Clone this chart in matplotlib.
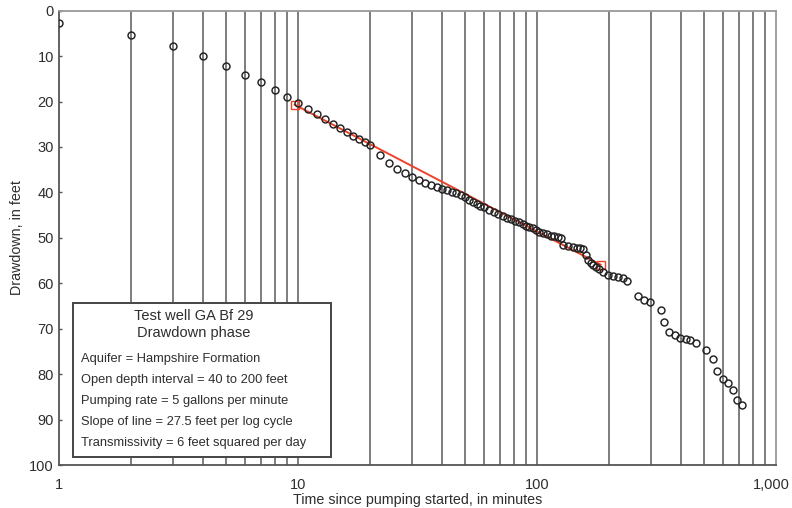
import matplotlib
matplotlib.use("Agg")
import matplotlib.pyplot as plt
import matplotlib.transforms as mtransforms
import numpy as np

plt.rcParams['font.family'] = ['Liberation Sans', 'DejaVu Sans']

# Observed data: time (minutes) and drawdown (feet)
time_min = [1, 2, 3, 4, 5, 6, 7, 8, 9, 10, 11, 12, 13, 14, 15, 16, 17, 18, 19, 20,
            22, 24, 26, 28, 30, 32, 34, 36, 38, 40, 42, 44, 46, 48, 50, 52, 54, 56, 58, 60,
            63, 66, 69, 72, 75, 78, 81, 84, 87, 90, 93, 96, 99, 102, 106, 110, 114, 118,
            122, 126, 129, 135, 142, 147, 152, 156, 160, 164, 168, 172, 176, 181, 189,
            199, 208, 218, 228, 238, 265, 281, 298, 329, 339, 357, 377, 396, 419, 438,
            460, 508, 542, 567, 597, 630, 661, 687, 717]
drawdown_ft = [2.8, 5.4, 7.8, 9.9, 12.2, 14.1, 15.8, 17.4, 19.0, 20.4, 21.7, 22.8, 23.9,
               25.0, 25.9, 26.8, 27.6, 28.3, 28.9, 29.6,
               31.7, 33.5, 34.9, 35.7, 36.5, 37.3, 37.9, 38.4, 38.9, 39.2, 39.5, 39.8, 40.2,
               40.6, 41.1, 41.7, 42.2, 42.6, 42.9, 43.2,
               43.8, 44.3, 44.7, 45.2, 45.6, 45.9, 46.2, 46.6, 47.0, 47.3, 47.6, 47.9, 48.3,
               48.7, 48.9, 49.2, 49.5, 49.7,
               49.9, 50.1, 51.5, 51.9, 52.0, 52.2, 52.3, 52.4, 53.7, 54.8, 55.5, 56.0, 56.4,
               56.9, 57.6,
               58.1, 58.3, 58.6, 58.9, 59.6, 62.9, 63.7, 64.2, 65.8, 68.5, 70.8, 71.3, 72.0,
               72.2, 72.5,
               73.1, 74.6, 76.6, 79.3, 81.0, 81.9, 83.5, 85.6, 86.7]

# Straight-line fit endpoints
fit_time = [9.7, 184.5]
fit_drawdown = [20.7, 55.9]

x_ticks = [1, 10, 100, 1000]
x_tick_labels = ['1', '10', '100', '1,000']
y_ticks = [0, 10, 20, 30, 40, 50, 60, 70, 80, 90, 100]

box_title = ["Test well GA Bf 29", "Drawdown phase"]
box_lines = ["Aquifer = Hampshire Formation",
             "Open depth interval = 40 to 200 feet",
             "Pumping rate = 5 gallons per minute",
             "Slope of line = 27.5 feet per log cycle",
             "Transmissivity = 6 feet squared per day"]

txt = '#2e2e2e'
fig = plt.figure(figsize=(7.92, 5.08), dpi=100)
ax = fig.add_axes([0.0741, 0.0846, 0.9059, 0.8944])
ax.set_xscale('log')
ax.set_xlim(1, 1000)
ax.set_ylim(100, 0)

# vertical grid lines at every 1..9 x 10^k
for k in range(3):
    for m in range(1, 10):
        v = m * 10 ** k
        if v > 1 and v < 1000:
            ax.axvline(v, color='#5a5a5a', lw=1.1, zorder=1)

ax.plot(fit_time, fit_drawdown, color='#ee4329', lw=1.4, zorder=3)
ax.plot(fit_time, fit_drawdown, ls='none', marker='s', ms=5.5, mfc='none',
        mec='#ee4329', mew=1.0, zorder=4)
ax.plot(time_min, drawdown_ft, ls='none', marker='o', ms=5.0, mfc='none',
        mec='#222222', mew=1.05, zorder=5)

ax.set_xticks(x_ticks)
ax.set_xticklabels(x_tick_labels)
ax.xaxis.set_minor_locator(matplotlib.ticker.NullLocator())
ax.set_yticks(y_ticks)
ax.tick_params(axis='x', length=0, pad=9, labelsize=10.5, colors=txt)
ax.tick_params(axis='y', length=2.5, width=1, direction='in', pad=3.5, labelsize=10.5,
               colors=txt, color='#555555')

# keep the last x label inside the figure, as in the reference
last = ax.get_xticklabels()[-1]
last.set_transform(last.get_transform() +
                   mtransforms.ScaledTranslation(-0.05, 0, fig.dpi_scale_trans))

for s in ['left', 'bottom']:
    ax.spines[s].set_color('#555555')
    ax.spines[s].set_linewidth(1.3)
for s in ['top', 'right']:
    ax.spines[s].set_color('#999999')
    ax.spines[s].set_linewidth(1.3)

ax.set_xlabel('Time since pumping started, in minutes', fontsize=10.3, color=txt, labelpad=1)
ax.set_ylabel('Drawdown, in feet', fontsize=10.3, color=txt, labelpad=4)

# Info box
fx = lambda px: px / 792
fy = lambda py: 1 - py / 508
rect = matplotlib.patches.Rectangle((fx(73.3), fy(457.3)), fx(331) - fx(73.3),
                                    fy(302.7) - fy(457.3), transform=fig.transFigure,
                                    facecolor='white', edgecolor='#444444', lw=1.4, zorder=10)
fig.patches.append(rect)
for i, t in enumerate(box_title):
    fig.text(fx(194), fy(315.7 + 17.6 * i), t, ha='center', va='center', fontsize=10.5,
             color=txt, zorder=11)
for i, t in enumerate(box_lines):
    fig.text(fx(80.7), fy(359 + 20.9 * i), t, ha='left', va='center', fontsize=9.3,
             color=txt, zorder=11)

fig.savefig('out.png', dpi=100, facecolor='white')
